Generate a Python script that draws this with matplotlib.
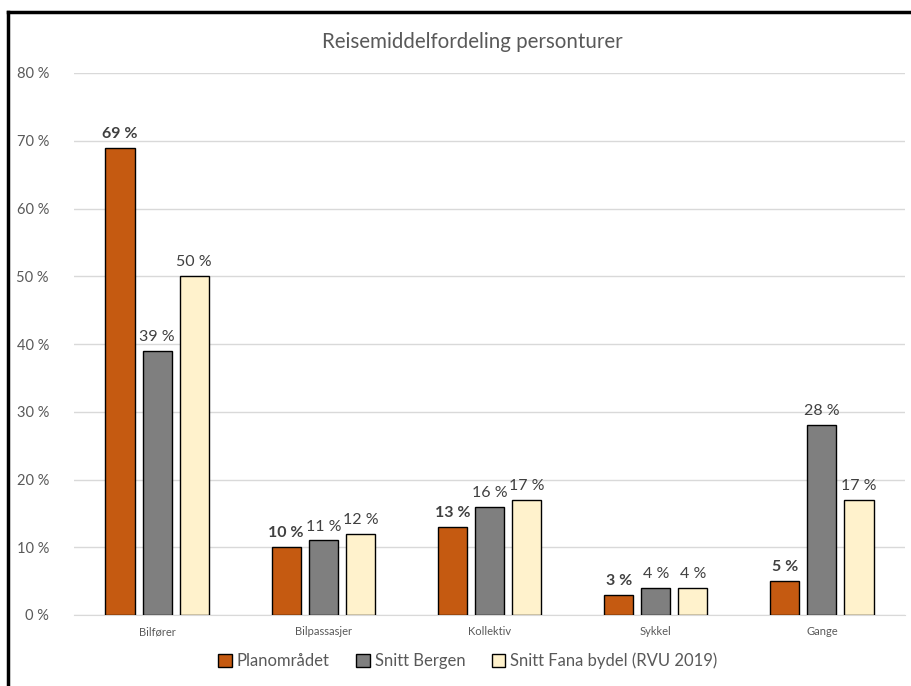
import numpy as np
import matplotlib
matplotlib.use('Agg')
from matplotlib import pyplot as plt
from matplotlib.lines import Line2D
from matplotlib.ticker import FuncFormatter

categories = ['Bilfører', 'Bilpassasjer', 'Kollektiv', 'Sykkel', 'Gange']
series_names = ['Planområdet', 'Snitt Bergen', 'Snitt Fana bydel (RVU 2019)']
planomradet = [69, 10, 13, 3, 5]
snitt_bergen = [39, 11, 16, 4, 28]
snitt_fana = [50, 12, 17, 4, 17]
y_ticks = [0, 10, 20, 30, 40, 50, 60, 70, 80]

colors = ['#C55A11', '#7F7F7F', '#FFF2CC']
text_color = '#595959'
label_color = '#404040'

plt.rcParams['font.family'] = ['Lato', 'DejaVu Sans']


def _draw_chart():
    fig = plt.figure(figsize=(9.12, 6.86), dpi=100)
    ax = fig.add_axes([74 / 912, 1 - 615 / 686, 831 / 912, 542 / 686])

    # frame lines along the top and left edge of the figure
    fig.add_artist(Line2D([8 / 912, 8 / 912], [0, 1 - 12 / 686], transform=fig.transFigure,
                          color='black', lw=2.5))
    fig.add_artist(Line2D([8 / 912, 1], [1 - 12 / 686, 1 - 12 / 686], transform=fig.transFigure,
                          color='black', lw=2.5))

    x = np.arange(len(categories))
    width = 0.175
    offset = 0.223
    all_values = [planomradet, snitt_bergen, snitt_fana]
    for i, values in enumerate(all_values):
        bars = ax.bar(x + (i - 1) * offset, values, width, color=colors[i],
                      edgecolor='black', linewidth=1.0, label=series_names[i], zorder=3)
        weight = 'bold' if i == 0 else 'normal'
        for bar, v in zip(bars, values):
            ax.annotate(f'{v} %', (bar.get_x() + bar.get_width() / 2, v),
                        xytext=(0, 5), textcoords='offset points', ha='center', va='bottom',
                        fontsize=11.5, color=label_color, fontweight=weight)

    ax.set_xlim(-0.5, len(categories) - 0.5)
    ax.set_ylim(0, 80)
    ax.set_yticks(y_ticks)
    ax.yaxis.set_major_formatter(FuncFormatter(lambda v, _: f'{v:.0f} %'))
    ax.set_xticks(x)
    ax.set_xticklabels(categories, fontsize=8, color=text_color)
    ax.tick_params(axis='y', labelsize=10.5, labelcolor=text_color, length=0, pad=18)
    ax.tick_params(axis='x', length=0, pad=8)
    ax.grid(axis='y', color='#D9D9D9', linewidth=1.0, zorder=0)
    for side in ['top', 'right', 'left']:
        ax.spines[side].set_visible(False)
    ax.spines['bottom'].set_color('#D9D9D9')

    fig.text(472 / 912, 1 - 42 / 686, 'Reisemiddelfordeling personturer', ha='center', va='center',
             fontsize=14.8, color=text_color)

    fig.legend(loc='center', bbox_to_anchor=(468 / 912, 1 - 661 / 686), ncol=3, frameon=False,
               fontsize=12, handlelength=0.8, handleheight=0.8, handletextpad=0.3,
               columnspacing=1.6, labelcolor=text_color)

    fig.savefig('out.png', dpi=100, facecolor='white')


if __name__ == '__main__':
    _draw_chart()
